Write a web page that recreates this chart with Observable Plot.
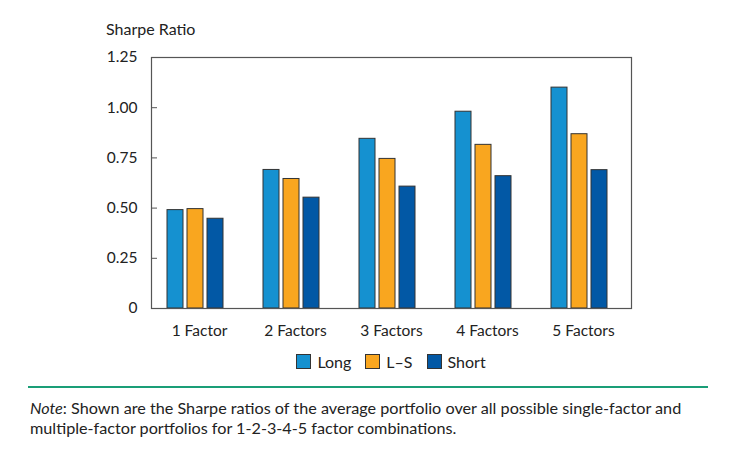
<!DOCTYPE html>
<html>
<head>
<meta charset="utf-8">
<script src="https://cdn.jsdelivr.net/npm/d3@7"></script>
<script src="https://cdn.jsdelivr.net/npm/@observablehq/plot@0.6"></script>
<style>
  html, body { margin: 0; padding: 0; background: #fff; }
  #wrap { position: relative; width: 740px; height: 458px; font-family: Lato, "Open Sans", sans-serif; color: #222; }
  #title { position: absolute; left: 106px; top: 19px; font-size: 16px; }
  #legend { position: absolute; left: 149px; width: 484px; top: 352px; display: flex; justify-content: center; align-items: center; font-size: 16px; }
  .item { display: flex; align-items: center; margin: 0 7px; }
  .sw { width: 15px; height: 15px; border: 1px solid #333; margin-right: 6px; box-sizing: border-box; }
  #rule { position: absolute; left: 28px; width: 680px; top: 386px; height: 2px; background: #1a9e77; }
  #note { position: absolute; left: 30px; top: 398px; width: 710px; font-size: 16.2px; line-height: 19.5px; }
</style>
</head>
<body>
<div id="wrap">
  <div id="title">Sharpe Ratio</div>
  <div id="chart"></div>
  <div id="legend"></div>
  <div id="rule"></div>
  <div id="note"><i>Note</i>: Shown are the Sharpe ratios of the average portfolio over all possible single-factor and<br>multiple-factor portfolios for 1-2-3-4-5 factor combinations.</div>
</div>
<script>
const categories = ["1 Factor", "2 Factors", "3 Factors", "4 Factors", "5 Factors"];
const series = ["Long", "L–S", "Short"];
const longVals = [0.49, 0.69, 0.845, 0.98, 1.10];
const lsVals = [0.495, 0.645, 0.745, 0.815, 0.868];
const shortVals = [0.447, 0.552, 0.607, 0.659, 0.689];
const colors = ["#1591d0", "#f9a61f", "#0258a5"];
const yTicks = [0, 0.25, 0.5, 0.75, 1.0, 1.25];

const seriesValues = [longVals, lsVals, shortVals];
const data = [];
categories.forEach((c, i) => series.forEach((s, j) => data.push({category: c, series: s, value: seriesValues[j][i]})));

const plot = Plot.plot({
  width: 740,
  height: 345,
  marginTop: 57,
  marginBottom: 37,
  marginLeft: 149,
  marginRight: 107,
  style: {fontFamily: "Lato, 'Open Sans', sans-serif", fontSize: "14px", color: "#222"},
  fx: {domain: categories, padding: 0, label: null},
  x: {domain: series, paddingInner: 0.2, paddingOuter: 0.95, align: 0.4, axis: null},
  y: {domain: [0, 1.25], label: null},
  color: {domain: series, range: colors},
  marks: [
    Plot.barY(data, {fx: "category", x: "series", y: "value", fill: "series", stroke: "#333", strokeWidth: 1}),
    Plot.frame({facet: "super", stroke: "#555", strokeWidth: 1.2}),
    Plot.axisY({ticks: yTicks, tickSize: 0, tickPadding: 14, tickFormat: d => d === 0 ? "0" : d.toFixed(2), label: null, fontSize: 15.5}),
    Plot.axisY({ticks: yTicks, tickSize: -6, text: null, label: null, stroke: "#555"}),
    Plot.axisFx({anchor: "bottom", tickSize: 0, tickPadding: 16, label: null, fontSize: 15.5})
  ]
});
document.getElementById("chart").appendChild(plot);

const legend = document.getElementById("legend");
series.forEach((s, j) => {
  const it = document.createElement("div");
  it.className = "item";
  const sw = document.createElement("div");
  sw.className = "sw";
  sw.style.background = colors[j];
  const t = document.createElement("span");
  t.textContent = s;
  it.appendChild(sw); it.appendChild(t);
  legend.appendChild(it);
});
</script>
</body>
</html>
